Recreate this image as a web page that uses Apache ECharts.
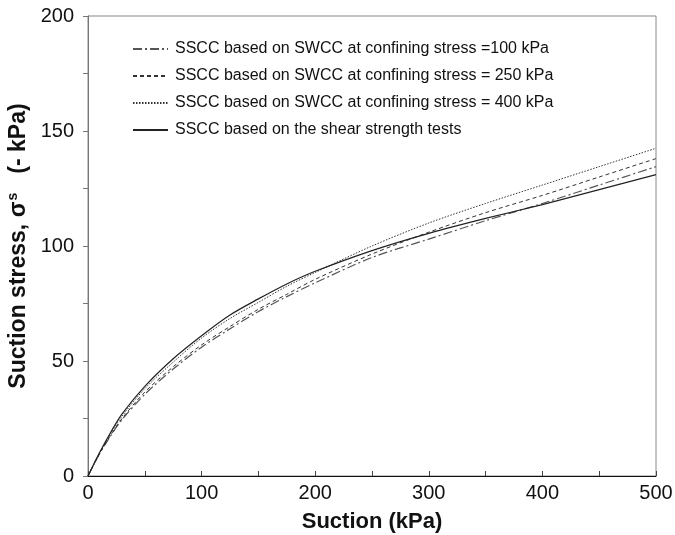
<!DOCTYPE html>
<html>
<head>
<meta charset="utf-8">
<script src="https://cdn.jsdelivr.net/npm/echarts@6/dist/echarts.min.js"></script>
<style>html,body{margin:0;padding:0;background:#fff}#c{width:675px;height:535px}</style>
</head>
<body>
<div id="c"></div>
<script>
var suction = [0, 10, 20, 30, 50, 75, 100, 125, 150, 175, 200, 250, 300, 350, 400, 450, 500];
var swcc100 = [0, 9.5, 17.5, 24.5, 35.5, 46.5, 56, 64, 71.5, 78, 84, 95, 103, 111, 118.5, 126.5, 134.5];
var swcc250 = [0, 9.6, 17.8, 25, 36.5, 47.5, 57, 65, 72.5, 79, 85.5, 96.5, 106, 114.5, 122, 130, 138];
var swcc400 = [0, 9.8, 18.3, 26, 38, 49.5, 60, 68.5, 75.5, 82.5, 88.5, 100, 110, 118.5, 126.5, 134.5, 142.5];
var shear = [0, 10, 19, 27, 39, 51, 61, 70, 77, 83.5, 89, 98, 105.5, 112, 118, 124.5, 131];
var names = [
  'SSCC based on SWCC at confining stress =100 kPa',
  'SSCC based on SWCC at confining stress = 250 kPa',
  'SSCC based on SWCC at confining stress = 400 kPa',
  'SSCC based on the shear strength tests'
];
function pairs(ys){ return suction.map(function(x,i){ return [x, ys[i]]; }); }
var chart = echarts.init(document.getElementById('c'));
var font = 'Liberation Sans, Arial, sans-serif';
chart.setOption({
  animation: false,
  grid: { left: 88, right: 19, top: 16, bottom: 59, show: true, borderColor: '#888', borderWidth: 1, outerBoundsMode: 'none', containLabel: false },
  legend: {
    orient: 'vertical', left: 127, top: 36, itemGap: 11, itemWidth: 35, itemHeight: 16,
    itemStyle: { color: 'rgba(0,0,0,0)', borderWidth: 0 },
    textStyle: { fontFamily: font, fontSize: 16, color: '#111', padding: [0, 0, 0, 2] },
    data: names
  },
  xAxis: {
    type: 'value', min: 0, max: 500, interval: 100,
    name: 'Suction (kPa)', nameLocation: 'middle', nameGap: 35,
    nameTextStyle: { fontFamily: font, fontSize: 22, fontWeight: 'bold', color: '#111' },
    axisLine: { lineStyle: { color: '#111', width: 1 } },
    axisTick: { inside: true, length: 5, lineStyle: { color: '#444' } },
    minorTick: { show: true, splitNumber: 2, length: 5, lineStyle: { color: '#444' } },
    axisLabel: { fontFamily: font, fontSize: 20, color: '#111', margin: 7 },
    splitLine: { show: false }
  },
  yAxis: {
    type: 'value', min: 0, max: 200, interval: 50,
    name: '{b|Suction stress, σ}{s|s}{b|   (- kPa)}', nameLocation: 'middle', nameGap: 55, nameRotate: 90,
    nameTextStyle: {
      fontFamily: font, fontSize: 23, fontWeight: 'bold', color: '#111',
      rich: {
        b: { fontFamily: font, fontSize: 23, fontWeight: 'bold', color: '#111' },
        s: { fontFamily: font, fontSize: 14, fontWeight: 'bold', color: '#111', verticalAlign: 'top', padding: [0, 0, 10, 1] }
      }
    },
    axisLine: { lineStyle: { color: '#777', width: 1 } },
    axisTick: { inside: false, length: 5, lineStyle: { color: '#777' } },
    minorTick: { show: true, splitNumber: 2, length: 5, lineStyle: { color: '#777' } },
    axisLabel: { fontFamily: font, fontSize: 20, color: '#111', margin: 14 },
    splitLine: { show: false }
  },
  series: [
    { name: names[0], type: 'line', data: pairs(swcc100), smooth: 0.3, symbol: 'none',
      itemStyle: { color: '#555' },
      lineStyle: { color: '#555', width: 1.2, type: [9, 3, 2, 3] } },
    { name: names[1], type: 'line', data: pairs(swcc250), smooth: 0.3, symbol: 'none',
      itemStyle: { color: '#333' },
      lineStyle: { color: '#333', width: 1, type: [4, 3] } },
    { name: names[2], type: 'line', data: pairs(swcc400), smooth: 0.3, symbol: 'none',
      itemStyle: { color: '#333' },
      lineStyle: { color: '#333', width: 1, type: [1.5, 1.5] } },
    { name: names[3], type: 'line', data: pairs(shear), smooth: 0.3, symbol: 'none',
      itemStyle: { color: '#222' },
      lineStyle: { color: '#222', width: 1.2, type: 'solid' } }
  ]
});
</script>
</body>
</html>
